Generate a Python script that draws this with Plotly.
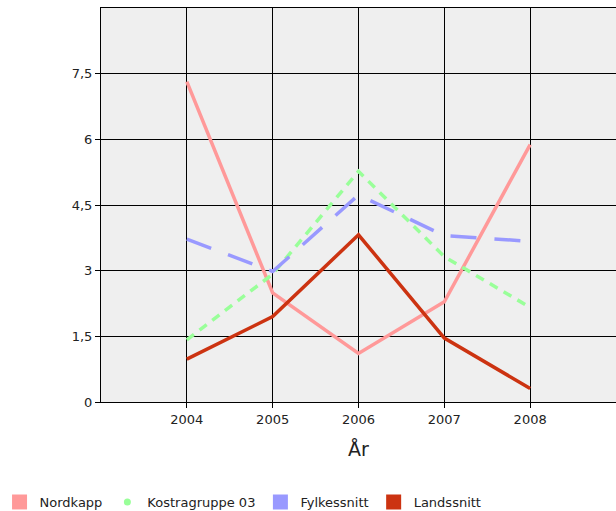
import plotly.graph_objects as go

years = [2004, 2005, 2006, 2007, 2008]
nordkapp = [7.32, 2.49, 1.11, 2.29, 5.88]
kostragruppe = [1.42, 2.92, 5.27, 3.32, 2.16]
fylkessnitt = [3.72, 2.98, 4.73, 3.80, 3.67]
landssnitt = [0.98, 1.95, 3.82, 1.46, 0.31]

ytick_vals = [0, 1.5, 3, 4.5, 6, 7.5]
ytick_text = ["0", "1,5", "3", "4,5", "6", "7,5"]
xtick_vals = [2004, 2005, 2006, 2007, 2008]

series = [
    ("Nordkapp", nordkapp, "#FF9999", "solid", "square", 15),
    ("Kostragruppe 03", kostragruppe, "#99FF99", "9px,7px", "circle", 7),
    ("Fylkessnitt", fylkessnitt, "#9999FF", "26px,18px", "square", 15),
    ("Landssnitt", landssnitt, "#CC3311", "solid", "square", 15),
]

fig = go.Figure()
for name, vals, color, dash, sym, sz in series:
    fig.add_trace(go.Scatter(
        x=years, y=vals, mode="lines", name=name, showlegend=False,
        line=dict(color=color, width=3.5, dash=dash),
    ))
for name, vals, color, dash, sym, sz in series:
    fig.add_trace(go.Scatter(
        x=[None], y=[None], mode="markers", name=name, showlegend=True,
        marker=dict(color=color, symbol=sym, size=sz),
    ))

fig.update_layout(
    width=616, height=511,
    margin=dict(l=101, r=0, t=8, b=109, autoexpand=False),
    plot_bgcolor="#EFEFEF", paper_bgcolor="white",
    font=dict(family="DejaVu Sans", size=13, color="#222222"),
    showlegend=True,
    legend=dict(orientation="h", x=-0.197, xanchor="left", y=-0.2538, yanchor="middle",
                font=dict(size=13), itemwidth=30,
                tracegroupgap=0, traceorder="normal"),
    xaxis=dict(range=[2003, 2009], tickvals=xtick_vals, ticktext=[str(v) for v in xtick_vals],
               showgrid=True, gridcolor="black", gridwidth=1,
               showline=True, linecolor="black", linewidth=1, mirror=True,
               ticks="outside", ticklen=5, tickcolor="black",
               zeroline=False, automargin=False,
               title=dict(text="År", font=dict(size=19), standoff=17)),
    yaxis=dict(range=[0, 9], tickvals=ytick_vals, ticktext=ytick_text,
               showgrid=True, gridcolor="black", gridwidth=1,
               showline=True, linecolor="black", linewidth=1,
               ticks="outside", ticklen=5, tickcolor="black",
               zeroline=False, automargin=False),
)

fig.write_html("out.html", config={"displayModeBar": False},
               post_script="document.body.style.margin='0';document.body.style.overflow='hidden';")
